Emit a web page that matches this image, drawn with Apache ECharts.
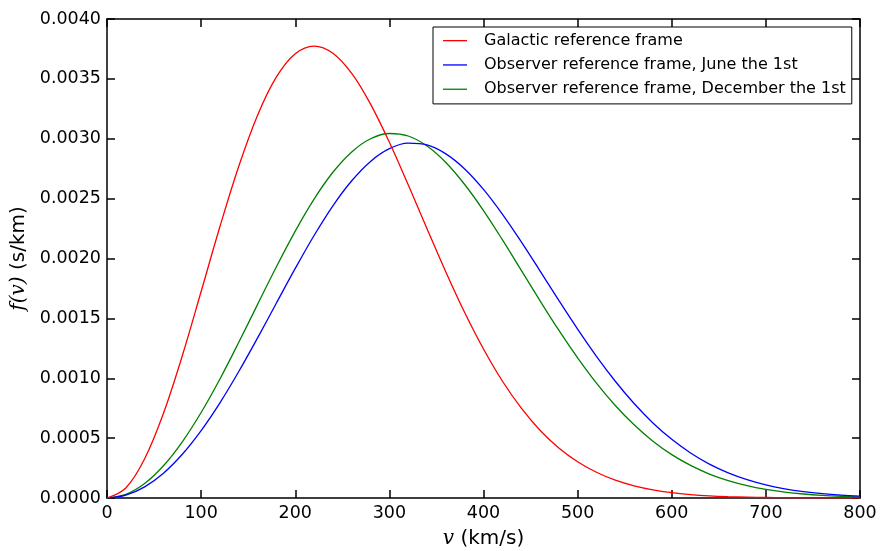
<!DOCTYPE html>
<html><head><meta charset="utf-8">
<script src="https://cdn.jsdelivr.net/npm/echarts@6/dist/echarts.min.js"></script>
<style>html,body{margin:0;padding:0;background:#fff;}#c{width:881px;height:551px;}</style>
</head><body><div id="c"></div>
<script>
const speeds = [0,20,40,60,80,100,120,140,160,180,200,220,240,260,280,300,320,340,360,380,400,420,440,460,480,500,520,540,560,580,600,620,640,660,680,700,720,740,760,780,800];
const galactic = [0,0.0000841,0.000328,0.000708,0.001188,0.001724,0.002267,0.002771,0.003197,0.003516,0.003710,0.003774,0.003714,0.003545,0.003289,0.002971,0.002616,0.002249,0.001888,0.001549,0.001244,0.000977,0.000752,0.000566,0.000418,0.000303,0.000215,0.000149,0.000102,0.0000683,0.0000449,0.0000290,0.0000183,0.0000114,0.0000070,0.0000042,0.0000024,0.0000013,0.0000007,0.0000004,0.0000002];
const june = [0,0.0000233,0.0000928,0.000207,0.000365,0.000563,0.000795,0.001056,0.001337,0.001628,0.001917,0.002192,0.002440,0.002649,0.002811,0.002917,0.002963,0.002948,0.002874,0.002748,0.002577,0.002371,0.002141,0.001897,0.001650,0.001410,0.001183,0.000975,0.000789,0.000627,0.000490,0.000376,0.000283,0.000210,0.000153,0.000109,0.0000770,0.0000532,0.0000361,0.0000241,0.0000158];
const december = [0,0.0000305,0.000121,0.000269,0.000469,0.000714,0.000994,0.001300,0.001617,0.001931,0.002229,0.002496,0.002720,0.002890,0.003000,0.003044,0.003023,0.002940,0.002802,0.002618,0.002400,0.002157,0.001903,0.001648,0.001401,0.001170,0.000959,0.000772,0.000611,0.000474,0.000362,0.000272,0.000200,0.000145,0.000103,0.0000720,0.0000495,0.0000334,0.0000222,0.0000145,0.0000093];
const seriesNames = ['Galactic reference frame','Observer reference frame, June the 1st','Observer reference frame, December the 1st'];
const seriesColors = ['#ff0000','#0000ff','#008000'];
const xTicks = [0,100,200,300,400,500,600,700,800];
const yTicks = [0,0.0005,0.0010,0.0015,0.0020,0.0025,0.0030,0.0035,0.0040];

const FONT = 'DejaVu Sans';
const axisLine = {show:true, onZero:false, lineStyle:{color:'#000', width:1.5}};
const tick = {show:true, inside:true, length:8, lineStyle:{color:'#000', width:1.5}};
const dataSets = [galactic, june, december];

const chart = echarts.init(document.getElementById('c'), null, {renderer:'canvas'});
chart.setOption({
  animation:false,
  backgroundColor:'#fff',
  grid:{left:107, right:21, top:19, bottom:53, containLabel:false, outerBoundsMode:'none'},
  legend:{
    left:433, top:27, orient:'vertical', icon:'rect',
    padding:[4,6,5,10], itemGap:5, itemWidth:24, itemHeight:1.3,
    borderColor:'#000', borderWidth:1, backgroundColor:'#fff', borderRadius:0,
    textStyle:{fontFamily:FONT, fontSize:16, color:'#000', padding:[0,0,0,12], lineHeight:19.3},
    data:seriesNames.map((n,i)=>({name:n, itemStyle:{color:seriesColors[i]}}))
  },
  xAxis:[{
    type:'value', min:xTicks[0], max:xTicks[xTicks.length-1], interval:100, position:'bottom',
    axisLine:axisLine, axisTick:tick, splitLine:{show:false},
    axisLabel:{fontFamily:FONT, fontSize:17.5, color:'#000', margin:6, showMinLabel:true, showMaxLabel:true},
    name:'{i|v} (km/s)', nameLocation:'middle', nameGap:41,
    nameTextStyle:{fontFamily:FONT, fontSize:20, color:'#000', verticalAlign:'middle',
      rich:{i:{fontFamily:'DejaVu Serif', fontStyle:'italic', fontSize:20, color:'#000'}}}
  },{
    type:'value', min:xTicks[0], max:xTicks[xTicks.length-1], interval:100, position:'top',
    axisLine:axisLine, axisTick:tick, splitLine:{show:false}, axisLabel:{show:false}
  }],
  yAxis:[{
    type:'value', min:yTicks[0], max:yTicks[yTicks.length-1], interval:0.0005, position:'left',
    axisLine:axisLine, axisTick:tick, splitLine:{show:false},
    axisLabel:{fontFamily:FONT, fontSize:17.5, color:'#000', margin:6, showMinLabel:true, showMaxLabel:true,
      formatter:v=>v.toFixed(4)},
    name:'{i|f(v)} (s/km)', nameLocation:'middle', nameGap:88, nameRotate:90,
    nameTextStyle:{fontFamily:FONT, fontSize:20, color:'#000', verticalAlign:'middle',
      rich:{i:{fontFamily:'DejaVu Serif', fontStyle:'italic', fontSize:20, color:'#000'}}}
  },{
    type:'value', min:yTicks[0], max:yTicks[yTicks.length-1], interval:0.0005, position:'right',
    axisLine:axisLine, axisTick:tick, splitLine:{show:false}, axisLabel:{show:false}
  }],
  series: dataSets.map((d,i)=>({
    name:seriesNames[i], type:'line', xAxisIndex:0, yAxisIndex:0,
    data: speeds.map((s,k)=>[s, d[k]]),
    smooth:0.35, symbol:'none', showSymbol:false,
    lineStyle:{color:seriesColors[i], width:1.3}, itemStyle:{color:seriesColors[i]},
    z: 3 - i
  }))
});
</script></body></html>
